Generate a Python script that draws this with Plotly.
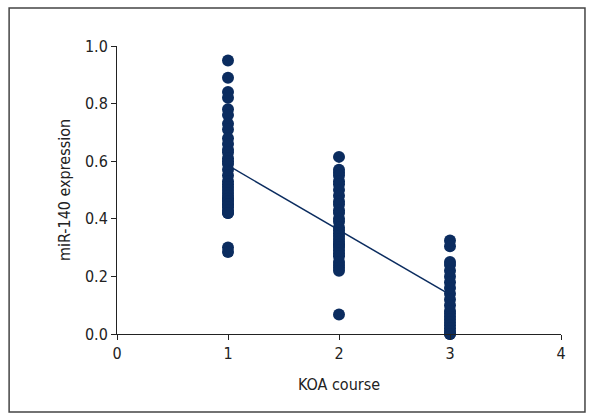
import numpy as np
import plotly.graph_objects as go

# miR-140 expression by KOA course (stage)
stage1 = [0.95, 0.89, 0.84, 0.82, 0.78, 0.76, 0.73, 0.71, 0.68, 0.66, 0.64, 0.63,
          0.61, 0.60, 0.59, 0.57, 0.55, 0.53, 0.52, 0.51, 0.50, 0.49, 0.48, 0.47,
          0.47, 0.46, 0.45, 0.45, 0.44, 0.43, 0.42, 0.42, 0.30, 0.285]
stage2 = [0.615, 0.57, 0.56, 0.55, 0.53, 0.52, 0.50, 0.48, 0.46, 0.45, 0.43, 0.42, 0.40,
          0.39, 0.37, 0.36, 0.35, 0.34, 0.33, 0.32, 0.31, 0.31, 0.30, 0.29, 0.28, 0.27,
          0.25, 0.24, 0.23, 0.22, 0.068]
stage3 = [0.325, 0.305, 0.25, 0.24, 0.22, 0.20, 0.18, 0.16, 0.14, 0.12, 0.10, 0.08,
          0.07, 0.06, 0.05, 0.04, 0.03, 0.02, 0.01, 0.0, 0.0]

x_ticks = [0, 1, 2, 3, 4]
y_ticks = [0.0, 0.2, 0.4, 0.6, 0.8, 1.0]

NAVY = "#0b2c5f"
FONT = "Liberation Sans Narrow, DejaVu Sans Condensed, sans-serif"

xs = [1] * len(stage1) + [2] * len(stage2) + [3] * len(stage3)
ys = stage1 + stage2 + stage3

# least-squares line across the three stages
slope, intercept = np.polyfit(xs, ys, 1)
fit_x = [1, 3]
fit_y = [intercept + slope * v for v in fit_x]

fig = go.Figure()
fig.add_trace(go.Scatter(
    x=xs, y=ys, mode="markers",
    marker=dict(size=12, color=NAVY, line=dict(width=0)),
    cliponaxis=False, showlegend=False,
))
fig.add_trace(go.Scatter(
    x=fit_x, y=fit_y, mode="lines",
    line=dict(color=NAVY, width=1.5),
    cliponaxis=False, showlegend=False,
))

axis_common = dict(
    showgrid=False, zeroline=False, showline=True, linecolor="#222", linewidth=1,
    ticks="outside", ticklen=5, tickwidth=1, tickcolor="#222",
    tickfont=dict(family=FONT, size=16, color="#222"),
)

fig.update_layout(
    width=594, height=420,
    margin=dict(l=117, r=33, t=46, b=86),
    paper_bgcolor="white", plot_bgcolor="white",
    xaxis=dict(range=[0, 4], tickvals=x_ticks, ticktext=[str(v) for v in x_ticks],
               title=dict(text="KOA course", font=dict(family=FONT, size=16, color="#222"),
                          standoff=16),
               **axis_common),
    yaxis=dict(range=[0, 1], tickvals=y_ticks, ticktext=[f"{v:.1f}" for v in y_ticks],
               title=dict(text="miR-140 expression", font=dict(family=FONT, size=16, color="#222"),
                          standoff=10),
               **axis_common),
    shapes=[dict(type="rect", xref="paper", yref="paper",
                 x0=-0.243, x1=1.054, y0=-0.271, y1=1.132,
                 line=dict(color="#444", width=1.5), fillcolor="rgba(0,0,0,0)",
                 layer="below")],
)

fig.write_html("out.html")
